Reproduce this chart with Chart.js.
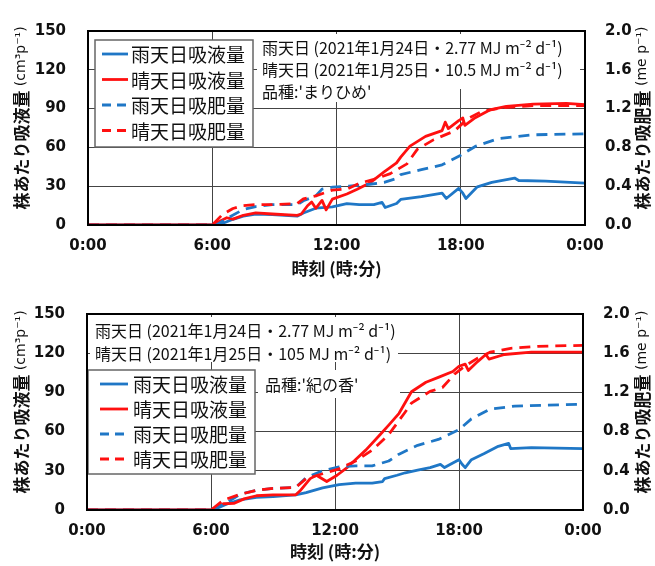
<!DOCTYPE html>
<html>
<head>
<meta charset="utf-8">
<script src="https://cdn.jsdelivr.net/npm/chart.js@4.4.0/dist/chart.umd.min.js"></script>
<style>
  body { margin: 0; background: #fff; }
  .box { position: relative; width: 655px; height: 283px; }
</style>
</head>
<body>
<div class="box"><canvas id="top"></canvas></div>
<div class="box"><canvas id="bottom"></canvas></div>
<script>
// hours of day (0-24) and values; liquid in cm3/plant, fertilizer in me/plant
const seriesLabels = ['雨天日吸液量', '晴天日吸液量', '雨天日吸肥量', '晴天日吸肥量'];
const xTicks = [0, 6, 12, 18, 24];

// まりひめ
const topRainLiqH = [0, 6.3, 7, 7.5, 8.1, 8.9, 10.1, 10.4, 11, 11.8, 12.5, 13.1, 13.8, 14.2, 14.35, 14.9, 15.1, 16.1, 17.1, 17.3, 17.9, 18.1, 18.25, 18.8, 19.5, 20.6, 20.8, 22.1, 24];
const topRainLiq  = [0, 0, 4.4, 6.8, 8.5, 8, 6.8, 9.3, 13, 14, 16.6, 15.8, 15.8, 17.5, 13.5, 16.6, 19.8, 22, 24.6, 20.5, 28.3, 24.6, 20.5, 29.5, 33, 36.3, 34.4, 33.9, 32.4];
const topSunLiqH  = [0, 6, 6.7, 7, 7.5, 8.1, 8.9, 10.1, 10.3, 10.6, 10.8, 11, 11.3, 11.5, 11.8, 12.5, 13, 13.6, 14.3, 14.9, 15.1, 15.55, 16.3, 17.1, 17.25, 17.4, 17.9, 18.1, 18.2, 18.7, 19.4, 20.2, 21.5, 23.1, 24];
const topSunLiq   = [0, 0, 5.6, 4.5, 7.5, 9.3, 8.5, 7.5, 8.5, 14.9, 17.8, 12.9, 19, 11.7, 20, 24, 27.6, 32.4, 41, 48, 52.5, 61, 68.5, 73, 79.5, 74.6, 80.7, 82.7, 77, 83, 89, 91.7, 93.4, 94, 93];
const topRainFerH = [0, 6.2, 6.9, 7.5, 8.1, 8.9, 10.1, 10.4, 11, 11.3, 11.8, 12.6, 13.6, 14.3, 14.9, 15.1, 16.1, 17.1, 18, 18.7, 19.8, 21.5, 24];
const topRainFer  = [0, 0, 0.09, 0.16, 0.19, 0.21, 0.21, 0.25, 0.30, 0.37, 0.39, 0.40, 0.42, 0.44, 0.48, 0.52, 0.57, 0.62, 0.72, 0.81, 0.89, 0.93, 0.94];
const topSunFerH  = [0, 6, 6.5, 7, 7.5, 8.1, 8.9, 10.1, 10.4, 11, 11.8, 12.5, 13.1, 13.8, 14.6, 15.4, 15.9, 16.7, 17.7, 18.3, 19, 20, 21.5, 24];
const topSunFer   = [0, 0, 0.11, 0.17, 0.20, 0.21, 0.21, 0.22, 0.27, 0.30, 0.36, 0.37, 0.43, 0.47, 0.53, 0.63, 0.78, 0.88, 0.97, 1.09, 1.17, 1.21, 1.23, 1.23];

// 紀の香
const botRainLiqH = [0, 6.1, 6.8, 7.4, 8.2, 9, 10.1, 10.6, 11.4, 12.2, 13, 13.8, 14.3, 14.4, 15, 15.4, 16, 16.6, 17.1, 17.3, 17.7, 18, 18.15, 18.3, 18.6, 19.2, 19.9, 20.4, 20.5, 21.5, 24];
const botRainLiq  = [0, 0, 4.8, 7.7, 9.7, 10.2, 11.6, 13.3, 16.9, 19.4, 20.6, 20.6, 21.8, 24, 26.6, 28.5, 30.5, 32.4, 34.9, 32.5, 36, 38.5, 35, 32.4, 38.5, 43, 48.7, 51, 47, 47.7, 47];
const botSunLiqH  = [0, 6, 6.6, 7.1, 7.6, 8.2, 9, 10.1, 10.3, 10.8, 11.1, 11.4, 11.6, 12.1, 12.6, 13, 13.5, 14.2, 14.6, 15.1, 15.7, 16.4, 17, 17.7, 18, 18.3, 18.45, 18.9, 19.3, 19.45, 20.2, 21.5, 24];
const botSunLiq   = [0, 0, 4.8, 5, 8.5, 10.9, 11.6, 11.6, 14.5, 24, 26.6, 23.7, 21.8, 26.6, 32.7, 38.7, 46, 58, 65, 74, 90.5, 97.8, 101.5, 106, 110, 111.6, 106.8, 113.6, 119, 115.5, 119, 120.8, 120.8];
const botRainFerH = [0, 6.1, 6.8, 7.4, 8.2, 9, 10.1, 10.6, 11.4, 12.2, 13, 13.8, 14.6, 15.1, 16, 17, 18, 18.6, 19.5, 20.7, 24];
const botRainFer  = [0, 0, 0.08, 0.16, 0.20, 0.22, 0.23, 0.33, 0.40, 0.44, 0.45, 0.45, 0.50, 0.57, 0.66, 0.72, 0.82, 0.93, 1.03, 1.06, 1.08];
const botSunFerH  = [0, 6, 6.6, 7.4, 8.2, 9, 10.1, 10.6, 11.4, 12.2, 13, 13.8, 14.6, 15.4, 15.7, 16.6, 17.2, 17.8, 18.3, 18.9, 19.5, 20.5, 21.8, 24];
const botSunFer   = [0, 0, 0.10, 0.16, 0.20, 0.22, 0.23, 0.32, 0.37, 0.42, 0.50, 0.61, 0.77, 1.00, 1.09, 1.21, 1.25, 1.39, 1.47, 1.55, 1.61, 1.65, 1.67, 1.68];

const BLUE = '#1f77c6', RED = '#ff1010';
const JP = '"Noto Sans CJK JP", "Noto Sans", sans-serif';
const NUM = '"DejaVu Sans", sans-serif';

function pts(hs, vs) { return hs.map((h, i) => ({ x: h, y: vs[i] })); }

function makeDatasets(s) {
  return [
    { label: seriesLabels[0], data: pts(s[0], s[1]), borderColor: BLUE, borderWidth: 2.8, yAxisID: 'y', order: 4 },
    { label: seriesLabels[1], data: pts(s[2], s[3]), borderColor: RED, borderWidth: 2.8, yAxisID: 'y', order: 3 },
    { label: seriesLabels[2], data: pts(s[4], s[5]), borderColor: BLUE, borderWidth: 2.8, borderDash: [11, 7], yAxisID: 'y1', order: 2 },
    { label: seriesLabels[3], data: pts(s[6], s[7]), borderColor: RED, borderWidth: 2.8, borderDash: [11, 7], yAxisID: 'y1', order: 1 }
  ];
}

// white boxes, notes and legend drawn inside the plot area
const overlay = {
  id: 'overlay',
  beforeDatasetsDraw(chart, args, o) {
    const ctx = chart.ctx, a = chart.chartArea;
    ctx.save();
    ctx.fillStyle = '#fff';
    o.blanks.forEach(b => ctx.fillRect(a.left + b[0], a.top + b[1], b[2], b[3]));
    ctx.fillStyle = '#111';
    ctx.font = '16px ' + JP;
    ctx.textBaseline = 'middle';
    o.notes.forEach(n => ctx.fillText(n.text, a.left + n.x, a.top + n.y));

    const L = o.legend;
    const lx = a.left + L.x, ly = a.top + L.y;
    ctx.fillStyle = '#fff';
    ctx.fillRect(lx, ly, L.w, L.h);
    ctx.strokeStyle = '#666';
    ctx.lineWidth = 1.5;
    ctx.strokeRect(lx, ly, L.w, L.h);
    ctx.font = '19px ' + JP;
    chart.data.datasets.forEach((ds, i) => {
      const y = ly + L.first + i * L.step;
      ctx.strokeStyle = ds.borderColor;
      ctx.lineWidth = 2.8;
      ctx.setLineDash(ds.borderDash ? [9, 6] : []);
      ctx.beginPath();
      ctx.moveTo(lx + L.line0, y);
      ctx.lineTo(lx + L.line1, y);
      ctx.stroke();
      ctx.setLineDash([]);
      ctx.fillStyle = '#111';
      ctx.fillText(ds.label, lx + L.text, y + 1);
    });
    ctx.restore();
  },
  afterDraw(chart, args, o) {
    const ctx = chart.ctx, a = chart.chartArea;
    ctx.save();
    ctx.strokeStyle = '#000';
    ctx.lineWidth = 2;
    ctx.strokeRect(a.left, a.top, a.right - a.left, a.bottom - a.top);
    // y titles, rotated
    const yc = (a.top + a.bottom) / 2 - 10;
    [[22, o.yTitles[0]], [643, o.yTitles[1]]].forEach(([x, t]) => {
      ctx.save();
      ctx.translate(x, yc);
      ctx.rotate(-Math.PI / 2);
      ctx.textBaseline = 'middle';
      ctx.font = 'bold 17px ' + JP;
      const w1 = ctx.measureText(t[0]).width;
      ctx.font = '14px ' + NUM;
      const w2 = ctx.measureText(t[1]).width;
      let x0 = -(w1 + w2) / 2;
      ctx.fillStyle = '#111';
      ctx.font = 'bold 17px ' + JP;
      ctx.fillText(t[0], x0, 0);
      ctx.font = '14px ' + NUM;
      ctx.fillText(t[1], x0 + w1, -1);
      ctx.restore();
    });
    ctx.restore();
  }
};

function makeChart(id, series, lay, over) {
  return new Chart(document.getElementById(id), {
    type: 'line',
    data: { datasets: makeDatasets(series) },
    plugins: [overlay],
    options: {
      responsive: true,
      maintainAspectRatio: false,
      animation: false,
      elements: { point: { radius: 0 }, line: { tension: 0, borderJoinStyle: 'round' } },
      layout: { padding: { top: lay.top, left: 0, right: 0, bottom: 0 } },
      plugins: { legend: { display: false }, tooltip: { enabled: false }, overlay: over },
      scales: {
        x: {
          type: 'linear', min: 0, max: 24,
          afterBuildTicks: s => { s.ticks = xTicks.map(v => ({ value: v })); },
          afterFit: s => { s.height = lay.xh; },
          ticks: { padding: 12, color: '#111', font: { family: NUM, size: 15, weight: 'bold' }, callback: v => (v % 24) + ':00', maxRotation: 0 },
          grid: { color: '#444', lineWidth: 1, drawTicks: false },
          border: { display: false },
          title: { display: true, text: '時刻 (時:分)', color: '#111', font: { family: JP, size: 17, weight: 'bold' }, padding: { top: 2 } }
        },
        y: {
          position: 'left', min: 0, max: 150,
          afterFit: s => { s.width = lay.left; },
          ticks: { stepSize: 30, padding: 22, color: '#111', font: { family: NUM, size: 15, weight: 'bold' } },
          grid: { color: '#444', lineWidth: 1, drawTicks: false },
          border: { display: false }
        },
        y1: {
          position: 'right', min: 0, max: 2,
          afterFit: s => { s.width = 655 - lay.right; },
          ticks: { stepSize: 0.4, padding: 20, color: '#111', font: { family: NUM, size: 15, weight: 'bold' }, callback: v => v.toFixed(1) },
          grid: { drawOnChartArea: false, drawTicks: false },
          border: { display: false }
        }
      }
    }
  });
}

const yTitles = [['株あたり吸液量', ' (cm³p⁻¹)'], ['株あたり吸肥量', ' (me p⁻¹)']];

makeChart('top',
  [topRainLiqH, topRainLiq, topSunLiqH, topSunLiq, topRainFerH, topRainFer, topSunFerH, topSunFer],
  { top: 17, xh: 58, left: 88, right: 585 },
  {
    yTitles,
    blanks: [[169, 3, 323, 55], [169, 55, 115, 16]],
    notes: [
      { x: 174, y: 17, text: '雨天日 (2021年1月24日・2.77 MJ m⁻² d⁻¹)' },
      { x: 174, y: 39, text: '晴天日 (2021年1月25日・10.5 MJ m⁻² d⁻¹)' },
      { x: 174, y: 61, text: "品種:'まりひめ'" }
    ],
    legend: { x: 7, y: 9, w: 158, h: 107, first: 14, step: 25.5, line0: 7, line1: 33, text: 36 }
  });

makeChart('bottom',
  [botRainLiqH, botRainLiq, botSunLiqH, botSunLiq, botRainFerH, botRainFer, botSunFerH, botSunFer],
  { top: 19, xh: 56, left: 87, right: 583 },
  {
    yTitles,
    blanks: [[3, 3, 308, 45], [171, 56, 142, 28]],
    notes: [
      { x: 8, y: 17, text: '雨天日 (2021年1月24日・2.77 MJ m⁻² d⁻¹)' },
      { x: 8, y: 40, text: '晴天日 (2021年1月25日・105 MJ m⁻² d⁻¹)' },
      { x: 178, y: 71, text: "品種:'紀の香'" }
    ],
    legend: { x: 1, y: 56, w: 167, h: 104, first: 14, step: 25, line0: 12, line1: 40, text: 45 }
  });
</script>
</body>
</html>
